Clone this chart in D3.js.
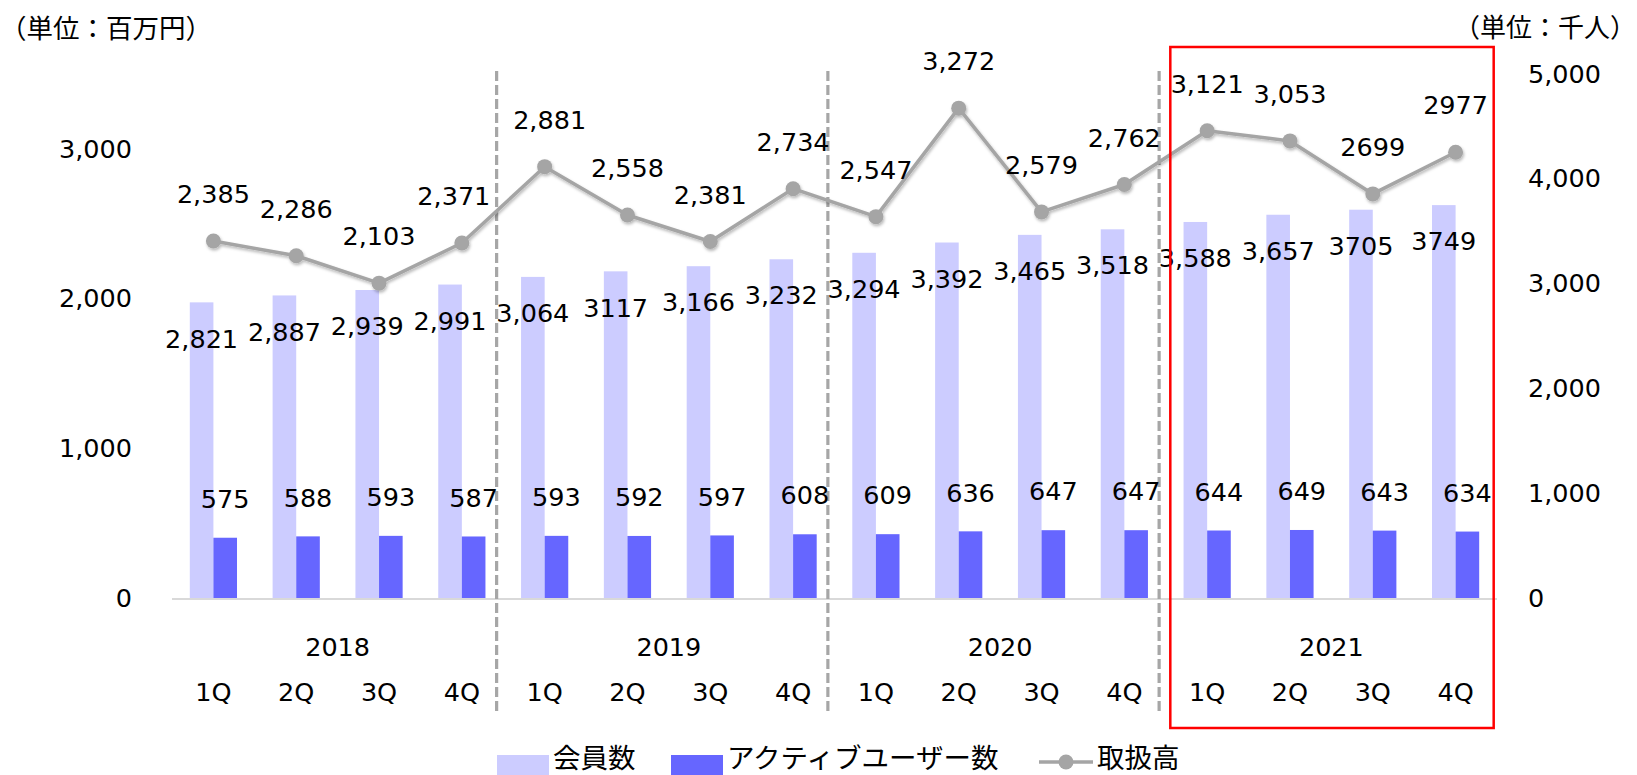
<!DOCTYPE html>
<html><head><meta charset="utf-8">
<script src="https://cdn.jsdelivr.net/npm/d3@7"></script>
<style>body{margin:0;background:#fff} svg{display:block}</style>
</head><body><svg id="c" width="1637" height="775"></svg>
<script>
// ---------- data ----------
const years = ["2018", "2019", "2020", "2021"];
const quarters = ["1Q", "2Q", "3Q", "4Q"];
const categories = years.flatMap(y => quarters.map(q => y + "-" + q));
const members = [2821, 2887, 2939, 2991, 3064, 3117, 3166, 3232, 3294, 3392, 3465, 3518, 3588, 3657, 3705, 3749];
const memberLabels = ["2,821", "2,887", "2,939", "2,991", "3,064", "3117", "3,166", "3,232", "3,294", "3,392", "3,465", "3,518", "3,588", "3,657", "3705", "3749"];
const activeUsers = [575, 588, 593, 587, 593, 592, 597, 608, 609, 636, 647, 647, 644, 649, 643, 634];
const volume = [2385, 2286, 2103, 2371, 2881, 2558, 2381, 2734, 2547, 3272, 2579, 2762, 3121, 3053, 2699, 2977];
const volumeLabels = ["2,385", "2,286", "2,103", "2,371", "2,881", "2,558", "2,381", "2,734", "2,547", "3,272", "2,579", "2,762", "3,121", "3,053", "2699", "2977"];
const leftTicks = [0, 1000, 2000, 3000];
const rightTicks = [0, 1000, 2000, 3000, 4000, 5000];
const seriesNames = ["会員数", "アクティブユーザー数", "取扱高"];
const leftUnit = "（単位：百万円）";
const rightUnit = "（単位：千人）";

// ---------- layout ----------
const W = 1637, H = 775;
const L = 172, R = 1497, T = 74, B = 598;
const NUM = "'DejaVu Sans', Verdana, sans-serif";
const JP = "'Noto Sans CJK JP', 'Noto Sans', sans-serif";
const C_MEM = "#CCCCFF", C_ACT = "#6666FF", C_LINE = "#A5A5A5";

const svg = d3.select("#c");
const defs = svg.append("defs");
const f = defs.append("filter").attr("id", "sh").attr("x", "-20%").attr("y", "-20%").attr("width", "140%").attr("height", "160%");
f.append("feDropShadow").attr("dx", 1).attr("dy", 2).attr("stdDeviation", 1.6).attr("flood-color", "#000").attr("flood-opacity", 0.28);

const x = d3.scaleBand().domain(categories).range([L, R]).paddingInner(0.43).paddingOuter(0.215);
const xs = d3.scaleBand().domain(["m", "a"]).range([0, x.bandwidth()]);
const yL = d3.scaleLinear().domain([0, 3500]).range([B, T]);
const yR = d3.scaleLinear().domain([0, 5000]).range([B, T]);
const cx = c => x(c) + x.bandwidth() / 2;
const step = x.step();

// bars
svg.append("g").selectAll("rect").data(categories).join("rect")
  .attr("x", c => x(c) + xs("m")).attr("width", xs.bandwidth())
  .attr("y", (c, i) => yR(members[i])).attr("height", (c, i) => B - yR(members[i]))
  .attr("fill", C_MEM);
svg.append("g").selectAll("rect").data(categories).join("rect")
  .attr("x", c => x(c) + xs("a")).attr("width", xs.bandwidth())
  .attr("y", (c, i) => yR(activeUsers[i])).attr("height", (c, i) => B - yR(activeUsers[i]))
  .attr("fill", C_ACT);

// baseline
svg.append("line").attr("x1", L).attr("x2", R).attr("y1", B + 1).attr("y2", B + 1)
  .attr("stroke", "#D9D9D9").attr("stroke-width", 2);

// year separators
[3, 7, 11].forEach(i => {
  const xx = cx(categories[i]) + step * 0.42;
  svg.append("line").attr("x1", xx).attr("x2", xx).attr("y1", 71).attr("y2", 714)
    .attr("stroke", "#A6A6A6").attr("stroke-width", 3.2).attr("stroke-dasharray", "10,4");
});

// axes (left / right) built via d3 axis, domain + ticks hidden
const axL = svg.append("g").attr("transform", `translate(${L - 40},0)`)
  .call(d3.axisLeft(yL).tickValues(leftTicks).tickFormat(d3.format(",")).tickSize(0).tickPadding(0));
const axR = svg.append("g").attr("transform", `translate(${1528},0)`)
  .call(d3.axisRight(yR).tickValues(rightTicks).tickFormat(d3.format(",")).tickSize(0).tickPadding(0));
[axL, axR].forEach(a => {
  a.select(".domain").remove();
  a.selectAll("text").attr("font-family", NUM).attr("font-size", 25.5).attr("fill", "#000");
});

// x labels
svg.append("g").selectAll("text").data(categories).join("text")
  .attr("x", c => cx(c)).attr("y", 692).attr("dy", "0.36em").attr("text-anchor", "middle")
  .attr("font-family", NUM).attr("font-size", 25.5).text((c, i) => quarters[i % 4]);
svg.append("g").selectAll("text").data(years).join("text")
  .attr("x", (y, k) => d3.mean(quarters, q => cx(y + "-" + q))).attr("y", 647).attr("dy", "0.36em")
  .attr("text-anchor", "middle").attr("font-family", NUM).attr("font-size", 25.5).text(d => d);

// line
const lineG = svg.append("g").attr("filter", "url(#sh)");
lineG.append("path").datum(volume)
  .attr("d", d3.line().x((v, i) => cx(categories[i])).y(v => yL(v)))
  .attr("fill", "none").attr("stroke", C_LINE).attr("stroke-width", 3.5).attr("stroke-linejoin", "round");
lineG.selectAll("circle").data(volume).join("circle")
  .attr("cx", (v, i) => cx(categories[i])).attr("cy", v => yL(v)).attr("r", 7.5).attr("fill", C_LINE);

// value labels
const nudge = {3: -8, 4: 5};
svg.append("g").selectAll("text").data(volume).join("text")
  .attr("x", (v, i) => cx(categories[i]) + (nudge[i] || 0)).attr("y", v => yL(v) - 47).attr("dy", "0.36em")
  .attr("text-anchor", "middle").attr("font-family", NUM).attr("font-size", 25.5)
  .text((v, i) => volumeLabels[i]);
svg.append("g").selectAll("text").data(members).join("text")
  .attr("x", (v, i) => x(categories[i]) + xs("m") + xs.bandwidth() / 2).attr("y", v => yR(v) + 36).attr("dy", "0.36em")
  .attr("text-anchor", "middle").attr("font-family", NUM).attr("font-size", 25.5)
  .text((v, i) => memberLabels[i]);
svg.append("g").selectAll("text").data(activeUsers).join("text")
  .attr("x", (v, i) => x(categories[i]) + xs("a") + xs.bandwidth() / 2).attr("y", v => yR(v) - 39).attr("dy", "0.36em")
  .attr("text-anchor", "middle").attr("font-family", NUM).attr("font-size", 25.5)
  .text(v => d3.format(",")(v));

// unit labels
svg.append("text").attr("x", 0).attr("y", 28).attr("dy", "0.36em").attr("font-family", JP).attr("font-size", 26.5).text(leftUnit);
svg.append("text").attr("x", 1636).attr("y", 28).attr("dy", "0.36em").attr("text-anchor", "end").attr("font-family", JP).attr("font-size", 26).text(rightUnit);

// highlight box around last year
const bx0 = x(categories[12]) - step * 0.16, bx1 = x(categories[15]) + x.bandwidth() + step * 0.175;
svg.append("rect").attr("x", bx0).attr("y", 47).attr("width", bx1 - bx0).attr("height", 728 - 47)
  .attr("fill", "none").attr("stroke", "#FF0000").attr("stroke-width", 2.5);

// legend
const lg = svg.append("g");
const LY = 758;
lg.append("rect").attr("x", 497).attr("y", 755).attr("width", 52).attr("height", 20).attr("fill", C_MEM);
lg.append("text").attr("x", 553).attr("y", LY).attr("dy", "0.36em").attr("font-family", JP).attr("font-size", 27.5).text(seriesNames[0]);
lg.append("rect").attr("x", 671).attr("y", 755).attr("width", 52).attr("height", 20).attr("fill", C_ACT);
lg.append("text").attr("x", 727).attr("y", LY).attr("dy", "0.36em").attr("font-family", JP).attr("font-size", 27.5).text(seriesNames[1]);
lg.append("line").attr("x1", 1039).attr("x2", 1093).attr("y1", LY + 4).attr("y2", LY + 4).attr("stroke", C_LINE).attr("stroke-width", 3.5);
lg.append("circle").attr("cx", 1066).attr("cy", LY + 4).attr("r", 7.5).attr("fill", C_LINE);
lg.append("text").attr("x", 1097).attr("y", LY).attr("dy", "0.36em").attr("font-family", JP).attr("font-size", 27.5).text(seriesNames[2]);
</script></body></html>
